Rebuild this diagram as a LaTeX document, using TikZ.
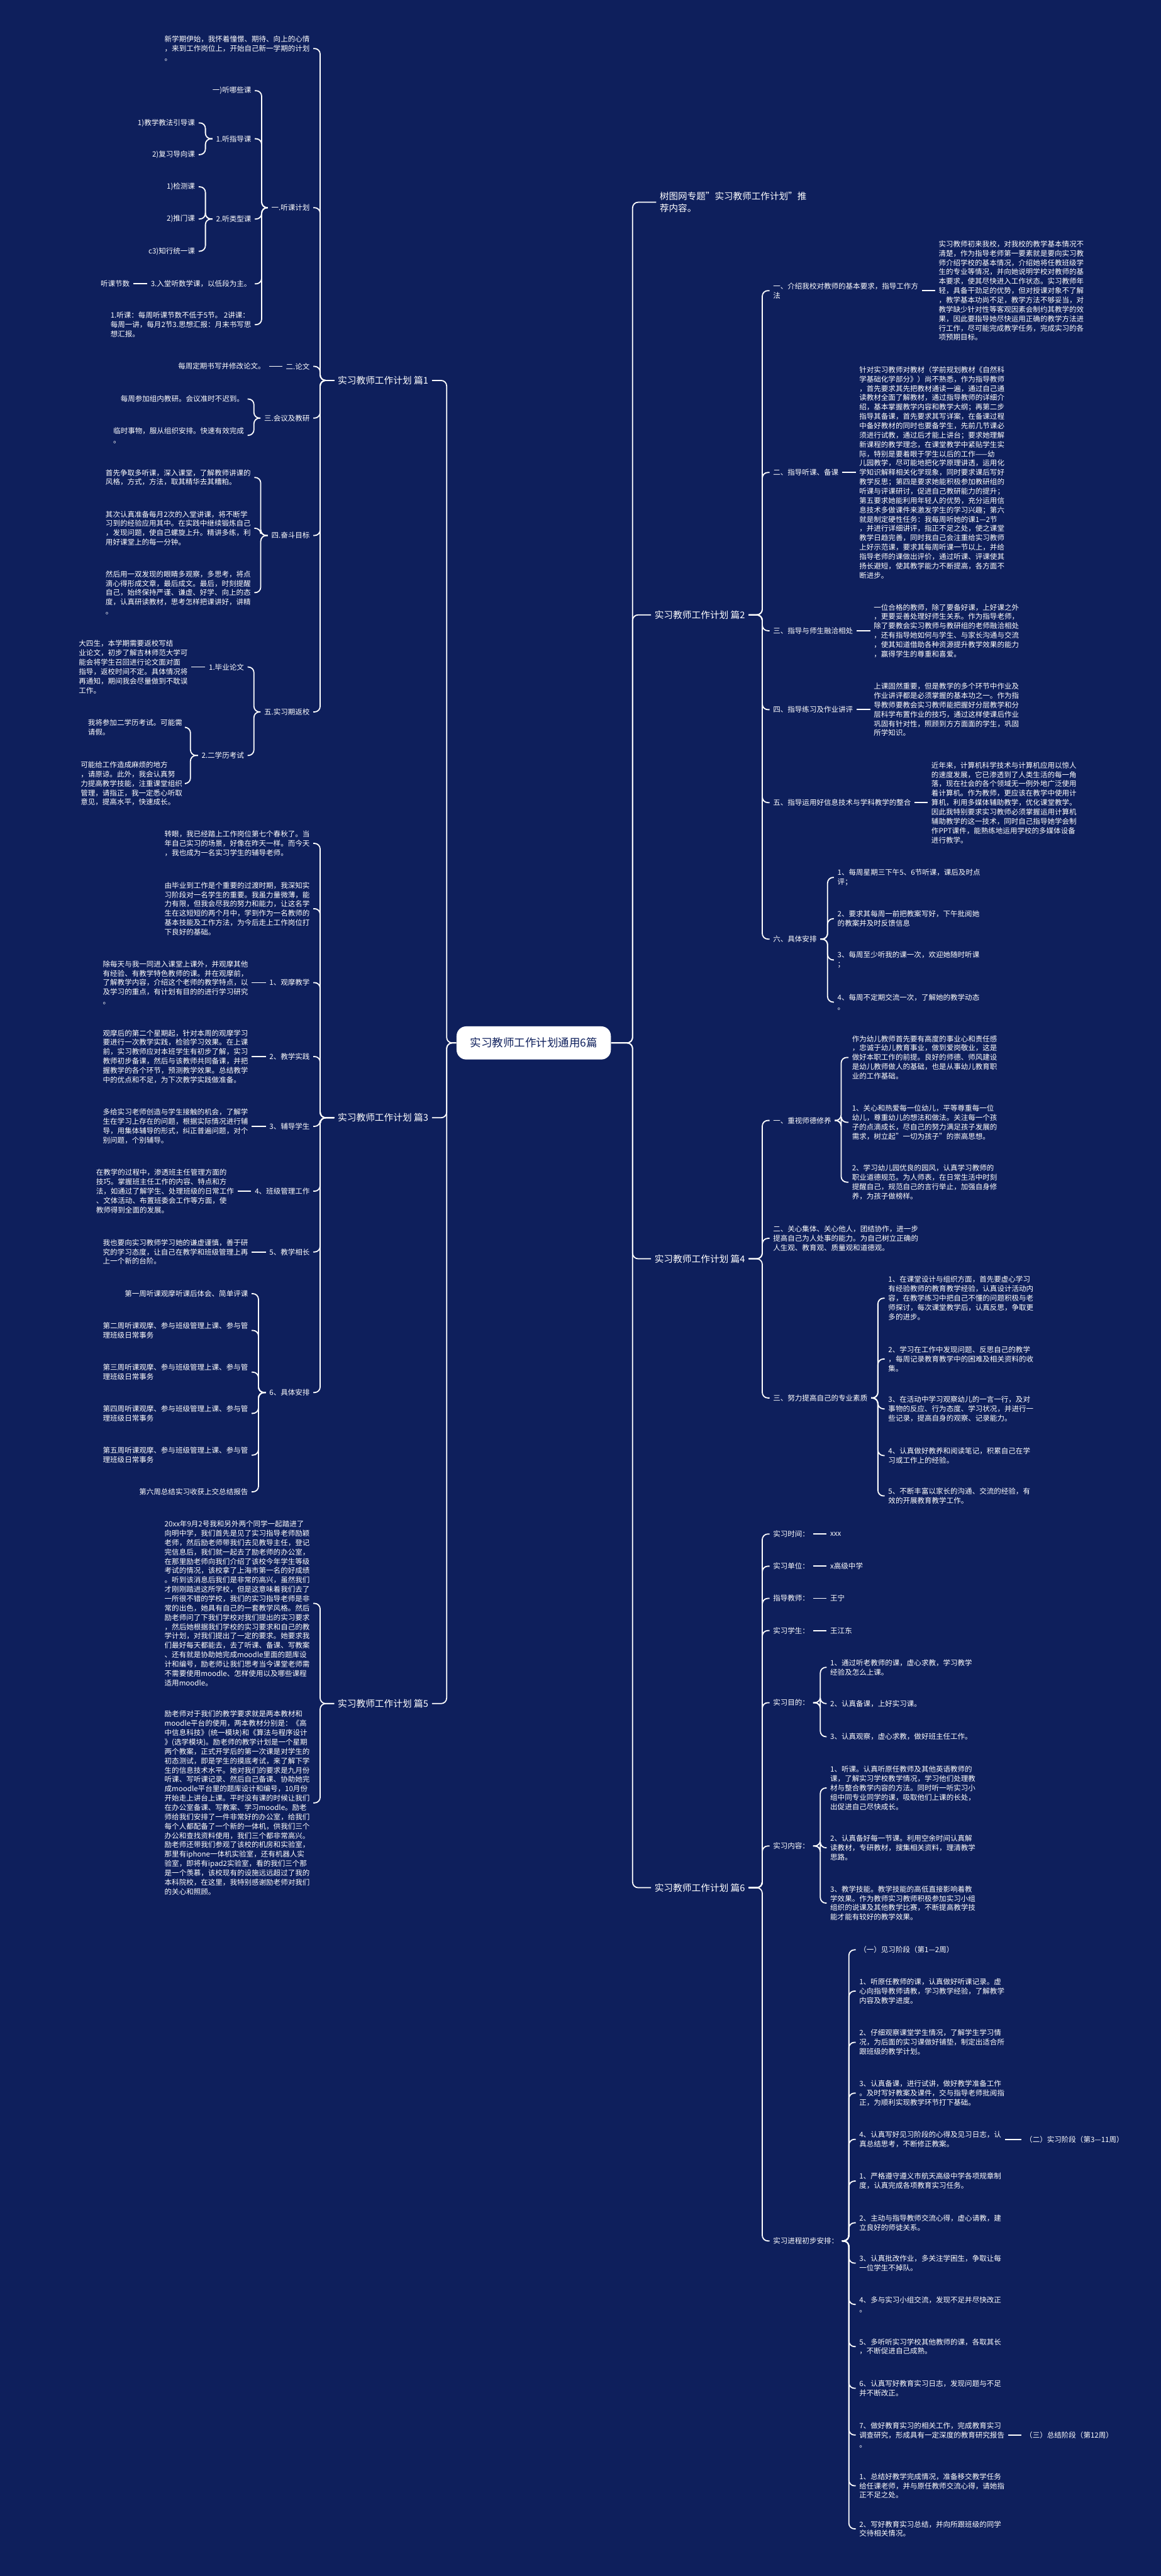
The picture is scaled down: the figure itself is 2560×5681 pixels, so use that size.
\documentclass[tikz,border=0pt]{standalone}
\usepackage{fontspec}
\setmainfont{Noto Sans CJK SC}
\definecolor{bgnavy}{RGB}{14,31,92}
\newcommand\ftxt{\fontsize{4.55pt}{5.86pt}\selectfont}
\newcommand\flab{\fontsize{5.8pt}{7pt}\selectfont}
\newcommand\ftop{\fontsize{5.75pt}{7.4pt}\selectfont}
\newcommand\fctr{\fontsize{6.9pt}{8pt}\selectfont}
\newcommand\LC[3]{\draw[conn] (#1.west) -- (#1.west -| #3) |- (#2.east);}
\newcommand\RC[3]{\draw[conn] (#1.east) -- (#1.east -| #3) |- (#2.west);}
\newcommand\LL[2]{\draw[conn] (#1.west) -- (#2.east);}
\newcommand\RL[2]{\draw[conn] (#1.east) -- (#2.west);}
\begin{document}
\begin{tikzpicture}[x=0.01cm,y=-0.01cm,
  tx/.style={text=white, font=\ftxt, align=left, inner xsep=0pt, inner ysep=1pt, outer xsep=2.28pt},
  lab/.style={text=white, font=\flab, inner xsep=0pt, inner ysep=1pt, outer xsep=2.28pt},
  conn/.style={draw=white, line width=0.7pt, rounded corners=3.5pt}]
\fill[bgnavy] (0,0) rectangle (2560,5681);
\useasboundingbox (0,0) rectangle (2560,5681);
% spines
\coordinate (xl) at (985,0);
\coordinate (xr) at (1395,0);
\coordinate (s1) at (706,0);
\coordinate (s11) at (577,0);
\coordinate (s12) at (453,0);
\coordinate (s3) at (560,0);
\coordinate (s4) at (575,0);
\coordinate (s52) at (420,0);
\coordinate (s7) at (570,0);
\coordinate (sr) at (1681,0);
\coordinate (sd6) at (1825,0);
\coordinate (se1) at (1855,0);
\coordinate (se3) at (1936,0);
\coordinate (sf5) at (1809,0);
\coordinate (sf7) at (1872,0);

% centre
\node[fill=white, rounded corners=6pt, text=bgnavy, font=\fctr, minimum width=3.4cm, minimum height=0.73cm] (C) at (1177,2300) {实习教师工作计划通用6篇};

% top node
\node[text=white, font=\ftop, align=left, inner xsep=0pt, outer xsep=2.28pt, anchor=west] (T) at (1447,446) {树图网专题"实习教师工作计划"推\\荐内容。};

% ===== 篇1 =====
\node[lab,anchor=west] (P1) at (737,839) {实习教师工作计划 篇1};
\node[tx,anchor=east] (a0) at (691,107) {新学期伊始，我怀着憧憬、期待、向上的心情\\，来到工作岗位上，开始自己新一学期的计划\\。};
\node[tx,anchor=east] (a1) at (691,458) {一.听课计划};
\node[tx,anchor=east] (a11) at (562,200) {一)听哪些课};
\node[tx,anchor=east] (a12) at (562,306) {1.听指导课};
\node[tx,anchor=east] (a121) at (438,271) {1)教学教法引导课};
\node[tx,anchor=east] (a122) at (438,341) {2)复习导向课};
\node[tx,anchor=east] (a13) at (562,483) {2.听类型课};
\node[tx,anchor=east] (a131) at (438,412) {1)检测课};
\node[tx,anchor=east] (a132) at (438,483) {2)推门课};
\node[tx,anchor=east] (a133) at (438,554) {c3)知行统一课};
\node[tx,anchor=east] (a14) at (562,626) {3.入堂听数学课，以低段为主。};
\node[tx,anchor=east] (a141) at (294,626) {听课节数};
\node[tx,anchor=east] (a15) at (562,716) {1.听课：每周听课节数不低于5节。 2讲课：\\每周一讲，每月2节3.思想汇报：月末书写思\\想汇报。};
\node[tx,anchor=east] (a2) at (691,808) {二.论文};
\node[tx,anchor=east] (a21) at (593,808) {每周定期书写并修改论文。};
\node[tx,anchor=east] (a3) at (691,922) {三.会议及教研};
\node[tx,anchor=east] (a31) at (546,880) {每周参加组内教研。会议准时不迟到。};
\node[tx,anchor=east] (a32) at (546,960) {临时事物，服从组织安排。快速有效完成\\。};
\node[tx,anchor=east] (a4) at (691,1181) {四.奋斗目标};
\node[tx,anchor=east] (a41) at (561,1053) {首先争取多听课，深入课堂，了解教师讲课的\\风格，方式，方法，取其精华去其糟粕。};
\node[tx,anchor=east] (a42) at (561,1165) {其次认真准备每月2次的入堂讲课，将不断学\\习到的经验应用其中。在实践中继续锻炼自己\\，发现问题，使自己螺旋上升。精讲多练，利\\用好课堂上的每一分钟。};
\node[tx,anchor=east] (a43) at (561,1307) {然后用一双发现的眼睛多观察，多思考，将点\\滴心得形成文章，最后成文。最后，时刻提醒\\自己，始终保持严谨、谦虚、好学、向上的态\\度，认真研读教材，思考怎样把课讲好，讲精\\。};
\node[tx,anchor=east] (a5) at (691,1570) {五.实习期返校};
\node[tx,anchor=east] (a51) at (546,1471) {1.毕业论文};
\node[tx,anchor=east] (a511) at (422,1471) {大四生，本学期需要返校写结\\业论文，初步了解吉林师范大学可\\能会将学生召回进行论文面对面\\指导，返校时间不定。具体情况将\\再通知，期间我会尽量做到不耽误\\工作。};
\node[tx,anchor=east] (a52) at (546,1666) {2.二学历考试};
\node[tx,anchor=east] (a521) at (410,1604) {我将参加二学历考试。可能需\\请假。};
\node[tx,anchor=east] (a522) at (410,1728) {可能给工作造成麻烦的地方\\，请原谅。此外，我会认真努\\力提高教学技能，注重课堂组织\\管理，请指正，我一定悉心听取\\意见，提高水平，快速成长。};

\LC{P1}{a0}{s1}\LC{P1}{a1}{s1}\LC{P1}{a2}{s1}\LC{P1}{a3}{s1}\LC{P1}{a4}{s1}\LC{P1}{a5}{s1}
\LC{a1}{a11}{s11}\LC{a1}{a12}{s11}\LC{a1}{a13}{s11}\LC{a1}{a14}{s11}\LC{a1}{a15}{s11}
\LC{a12}{a121}{s12}\LC{a12}{a122}{s12}
\LC{a13}{a131}{s12}\LC{a13}{a132}{s12}\LC{a13}{a133}{s12}
\LL{a14}{a141}
\LL{a2}{a21}
\LC{a3}{a31}{s3}\LC{a3}{a32}{s3}
\LC{a4}{a41}{s4}\LC{a4}{a42}{s4}\LC{a4}{a43}{s4}
\LC{a5}{a51}{s3}\LC{a5}{a52}{s3}
\LL{a51}{a511}
\LC{a52}{a521}{s52}\LC{a52}{a522}{s52}

% ===== 篇3 =====
\node[lab,anchor=west] (P3) at (737,2465) {实习教师工作计划 篇3};
\node[tx,anchor=east] (b0) at (691,1860) {转眼，我已经踏上工作岗位第七个春秋了。当\\年自己实习的场景，好像在昨天一样。而今天\\，我也成为一名实习学生的辅导老师。};
\node[tx,anchor=east] (b1) at (691,2004) {由毕业到工作是个重要的过渡时期，我深知实\\习阶段对一名学生的重要。我虽力量微薄，能\\力有限，但我会尽我的努力和能力，让这名学\\生在这短短的两个月中，学到作为一名教师的\\基本技能及工作方法，为今后走上工作岗位打\\下良好的基础。};
\node[tx,anchor=east] (b2) at (691,2167) {1、观摩教学};
\node[tx,anchor=east] (b21) at (555,2167) {除每天与我一同进入课堂上课外，并观摩其他\\有经验、有教学特色教师的课。并在观摩前，\\了解教学内容，介绍这个老师的教学特点，以\\及学习的重点，有计划有目的的进行学习研究\\。};
\node[tx,anchor=east] (b3) at (691,2330) {2、教学实践};
\node[tx,anchor=east] (b31) at (555,2330) {观摩后的第二个星期起，针对本周的观摩学习\\要进行一次教学实践，检验学习效果。在上课\\前，实习教师应对本班学生有初步了解，实习\\教师初步备课，然后与该教师共同备课，并把\\握教学的各个环节，预测教学效果。总结教学\\中的优点和不足，为下次教学实践做准备。};
\node[tx,anchor=east] (b4) at (691,2484) {3、辅导学生};
\node[tx,anchor=east] (b41) at (555,2484) {多给实习老师创造与学生接触的机会，了解学\\生在学习上存在的问题，根据实际情况进行辅\\导，用集体辅导的形式，纠正普遍问题，对个\\别问题，个别辅导。};
\node[tx,anchor=east] (b5) at (691,2627) {4、班级管理工作};
\node[tx,anchor=east] (b51) at (524,2627) {在教学的过程中，渗透班主任管理方面的\\技巧。掌握班主任工作的内容、特点和方\\法，如通过了解学生、处理班级的日常工作\\、文体活动、布置班委会工作等方面，使\\教师得到全面的发展。};
\node[tx,anchor=east] (b6) at (691,2761) {5、教学相长};
\node[tx,anchor=east] (b61) at (555,2761) {我也要向实习教师学习她的谦虚谨慎，善于研\\究的学习态度，让自己在教学和班级管理上再\\上一个新的台阶。};
\node[tx,anchor=east] (b7) at (691,3071) {6、具体安排};
\node[tx,anchor=east] (b71) at (555,2853) {第一周听课观摩听课后体会、简单评课};
\node[tx,anchor=east] (b72) at (555,2934) {第二周听课观摩、参与班级管理上课、参与管\\理班级日常事务};
\node[tx,anchor=east] (b73) at (555,3026) {第三周听课观摩、参与班级管理上课、参与管\\理班级日常事务};
\node[tx,anchor=east] (b74) at (555,3117) {第四周听课观摩、参与班级管理上课、参与管\\理班级日常事务};
\node[tx,anchor=east] (b75) at (555,3209) {第五周听课观摩、参与班级管理上课、参与管\\理班级日常事务};
\node[tx,anchor=east] (b76) at (555,3290) {第六周总结实习收获上交总结报告};

\LC{P3}{b0}{s1}\LC{P3}{b1}{s1}\LC{P3}{b2}{s1}\LC{P3}{b3}{s1}\LC{P3}{b4}{s1}\LC{P3}{b5}{s1}\LC{P3}{b6}{s1}\LC{P3}{b7}{s1}
\LL{b2}{b21}\LL{b3}{b31}\LL{b4}{b41}\LL{b5}{b51}\LL{b6}{b61}
\LC{b7}{b71}{s7}\LC{b7}{b72}{s7}\LC{b7}{b73}{s7}\LC{b7}{b74}{s7}\LC{b7}{b75}{s7}\LC{b7}{b76}{s7}

% ===== 篇5 =====
\node[lab,anchor=west] (P5) at (737,3757) {实习教师工作计划 篇5};
\node[tx,anchor=east] (c1) at (691,3536) {20xx年9月2号我和另外两个同学一起踏进了\\向明中学，我们首先是见了实习指导老师励颖\\老师，然后励老师带我们去见教导主任，登记\\完信息后，我们就一起去了励老师的办公室，\\在那里励老师向我们介绍了该校今年学生等级\\考试的情况，该校拿了上海市第一名的好成绩\\。听到该消息后我们是非常的高兴，虽然我们\\才刚刚踏进这所学校，但是这意味着我们去了\\一所很不错的学校，我们的实习指导老师是非\\常的出色，她具有自己的一套教学风格。然后\\励老师问了下我们学校对我们提出的实习要求\\，然后她根据我们学校的实习要求和自己的教\\学计划，对我们提出了一定的要求。她要求我\\们最好每天都能去，去了听课、备课、写教案\\、还有就是协助她完成moodle里面的题库设\\计和编号，励老师让我们思考当今课堂老师需\\不需要使用moodle、怎样使用以及哪些课程\\适用moodle。};
\node[tx,anchor=east] (c2) at (691,3976) {励老师对于我们的教学要求就是两本教材和\\moodle平台的使用，两本教材分别是：《高\\中信息科技》(统一模块)和《算法与程序设计\\》(选学模块)。励老师的教学计划是一个星期\\两个教案，正式开学后的第一次课是对学生的\\初态测试，即是学生的摸底考试，来了解下学\\生的信息技术水平。她对我们的要求是九月份\\听课、写听课记录、然后自己备课、协助她完\\成moodle平台里的题库设计和编号，10月份\\开始走上讲台上课。平时没有课的时候让我们\\在办公室备课、写教案、学习moodle。励老\\师给我们安排了一件非常好的办公室，给我们\\每个人都配备了一个新的一体机，供我们三个\\办公和查找资料使用，我们三个都非常高兴。\\励老师还带我们参观了该校的机房和实验室，\\那里有iphone一体机实验室，还有机器人实\\验室，即将有ipad2实验室，看的我们三个那\\是一个羡慕，该校现有的设施远远超过了我的\\本科院校，在这里，我特别感谢励老师对我们\\的关心和照顾。};
\LC{P5}{c1}{s1}\LC{P5}{c2}{s1}

% ===== 篇2 =====
\node[lab,anchor=east] (P2) at (1651,1356) {实习教师工作计划 篇2};
\node[tx,anchor=west] (d1) at (1697,641) {一、介绍我校对教师的基本要求，指导工作方\\法};
\node[tx,anchor=west] (d11) at (2062,641) {实习教师初来我校，对我校的教学基本情况不\\清楚，作为指导老师第一要素就是要向实习教\\师介绍学校的基本情况，介绍她将任教班级学\\生的专业等情况，并向她说明学校对教师的基\\本要求，使其尽快进入工作状态。实习教师年\\轻，具备干劲足的优势，但对授课对象不了解\\，教学基本功尚不足，教学方法不够妥当，对\\教学缺少针对性等客观因素会制约其教学的效\\果，因此要指导她尽快运用正确的教学方法进\\行工作，尽可能完成教学任务，完成实习的各\\项预期目标。};
\node[tx,anchor=west] (d2) at (1697,1042) {二、指导听课、备课};
\node[tx,anchor=west] (d21) at (1887,1042) {针对实习教师对教材（学前规划教材《自然科\\学基础化学部分》）尚不熟悉，作为指导教师\\，首先要求其先把教材通读一遍，通过自己通\\读教材全面了解教材，通过指导教师的详细介\\绍，基本掌握教学内容和教学大纲；再第二步\\指导其备课，首先要求其写详案，在备课过程\\中备好教材的同时也要备学生，先前几节课必\\须进行试教，通过后才能上讲台；要求她理解\\新课程的教学理念，在课堂教学中紧贴学生实\\际，特别是要着眼于学生以后的工作——幼\\儿园教学，尽可能地把化学原理讲透，运用化\\学知识解释相关化学现象，同时要求课后写好\\教学反思；第四是要求她能积极参加教研组的\\听课与评课研讨，促进自己教研能力的提升；\\第五要求她能利用年轻人的优势，充分运用信\\息技术多做课件来激发学生的学习兴趣；第六\\就是制定硬性任务：我每周听她的课1—2节\\，并进行详细讲评，指正不足之处，使之课堂\\教学日趋完善，同时我自己会注重给实习教师\\上好示范课，要求其每周听课一节以上，并给\\指导老师的课做出评价，通过听课、评课使其\\扬长避短，使其教学能力不断提高，各方面不\\断进步。};
\node[tx,anchor=west] (d3) at (1697,1391) {三、指导与师生融洽相处};
\node[tx,anchor=west] (d31) at (1919,1391) {一位合格的教师，除了要备好课，上好课之外\\，更要妥善处理好师生关系。作为指导老师，\\除了要教会实习教师与教研组的老师融洽相处\\，还有指导她如何与学生、与家长沟通与交流\\，使其知道借助各种资源提升教学效果的能力\\，赢得学生的尊重和喜爱。};
\node[tx,anchor=west] (d4) at (1697,1565) {四、指导练习及作业讲评};
\node[tx,anchor=west] (d41) at (1919,1565) {上课固然重要，但是教学的多个环节中作业及\\作业讲评都是必须掌握的基本功之一。作为指\\导教师要教会实习教师能把握好分层教学和分\\层科学布置作业的技巧，通过这样使课后作业\\巩固有针对性，照顾到方方面面的学生，巩固\\所学知识。};
\node[tx,anchor=west] (d5) at (1697,1770) {五、指导运用好信息技术与学科教学的整合};
\node[tx,anchor=west] (d51) at (2046,1770) {近年来，计算机科学技术与计算机应用以惊人\\的速度发展，它已渗透到了人类生活的每一角\\落，现在社会的各个领域无一例外地广泛使用\\着计算机。作为教师，更应该在教学中使用计\\算机，利用多媒体辅助教学，优化课堂教学。\\因此我特别要求实习教师必须掌握运用计算机\\辅助教学的这一技术，同时自己指导她学会制\\作PPT课件，能熟练地运用学校的多媒体设备\\进行教学。};
\node[tx,anchor=west] (d6) at (1697,2071) {六、具体安排};
\node[tx,anchor=west] (d61) at (1839,1935) {1、每周星期三下午5、6节听课，课后及时点\\评；};
\node[tx,anchor=west] (d62) at (1839,2026) {2、要求其每周一前把教案写好，下午批阅她\\的教案并及时反馈信息};
\node[tx,anchor=west] (d63) at (1839,2117) {3、每周至少听我的课一次，欢迎她随时听课\\；};
\node[tx,anchor=west] (d64) at (1839,2210) {4、每周不定期交流一次，了解她的教学动态\\。};
\RC{P2}{d1}{sr}\RC{P2}{d2}{sr}\RC{P2}{d3}{sr}\RC{P2}{d4}{sr}\RC{P2}{d5}{sr}\RC{P2}{d6}{sr}
\RL{d1}{d11}\RL{d2}{d21}\RL{d3}{d31}\RL{d4}{d41}\RL{d5}{d51}
\RC{d6}{d61}{sd6}\RC{d6}{d62}{sd6}\RC{d6}{d63}{sd6}\RC{d6}{d64}{sd6}

% ===== 篇4 =====
\node[lab,anchor=east] (P4) at (1651,2776) {实习教师工作计划 篇4};
\node[tx,anchor=west] (e1) at (1697,2471) {一、重视师德修养};
\node[tx,anchor=west] (e11) at (1871,2332) {作为幼儿教师首先要有高度的事业心和责任感\\，忠诚于幼儿教育事业，做到爱岗敬业，这是\\做好本职工作的前提。良好的师德、师风建设\\是幼儿教师做人的基础，也是从事幼儿教育职\\业的工作基础。};
\node[tx,anchor=west] (e12) at (1871,2475) {1、关心和热爱每一位幼儿，平等尊重每一位\\幼儿，尊重幼儿的想法和做法。关注每一个孩\\子的点滴成长，尽自己的努力满足孩子发展的\\需求，树立起"一切为孩子"的崇高思想。};
\node[tx,anchor=west] (e13) at (1871,2607) {2、学习幼儿园优良的园风，认真学习教师的\\职业道德规范。为人师表，在日常生活中时刻\\提醒自己，规范自己的言行举止，加强自身修\\养，为孩子做榜样。};
\node[tx,anchor=west] (e2) at (1697,2731) {二、关心集体、关心他人，团结协作，进一步\\提高自己为人处事的能力。为自己树立正确的\\人生观、教育观、质量观和道德观。};
\node[tx,anchor=west] (e3) at (1697,3083) {三、努力提高自己的专业素质};
\node[tx,anchor=west] (e31) at (1951,2863) {1、在课堂设计与组织方面，首先要虚心学习\\有经验教师的教育教学经验，认真设计活动内\\容，在教学练习中把自己不懂的问题积极与老\\师探讨，每次课堂教学后，认真反思，争取更\\多的进步。};
\node[tx,anchor=west] (e32) at (1951,2997) {2、学习在工作中发现问题、反思自己的教学\\，每周记录教育教学中的困难及相关资料的收\\集。};
\node[tx,anchor=west] (e33) at (1951,3107) {3、在活动中学习观察幼儿的一言一行，及对\\事物的反应、行为态度、学习状况，并进行一\\些记录，提高自身的观察、记录能力。};
\node[tx,anchor=west] (e34) at (1951,3210) {4、认真做好教养和阅读笔记，积累自己在学\\习或工作上的经验。};
\node[tx,anchor=west] (e35) at (1951,3299) {5、不断丰富以家长的沟通、交流的经验，有\\效的开展教育教学工作。};
\RC{P4}{e1}{sr}\RC{P4}{e2}{sr}\RC{P4}{e3}{sr}
\RC{e1}{e11}{se1}\RC{e1}{e12}{se1}\RC{e1}{e13}{se1}
\RC{e3}{e31}{se3}\RC{e3}{e32}{se3}\RC{e3}{e33}{se3}\RC{e3}{e34}{se3}\RC{e3}{e35}{se3}

% ===== 篇6 =====
\node[lab,anchor=east] (P6) at (1651,4163) {实习教师工作计划 篇6};
\node[tx,anchor=west] (f1) at (1697,3383) {实习时间：};
\node[tx,anchor=west] (f11) at (1823,3383) {xxx};
\node[tx,anchor=west] (f2) at (1697,3454) {实习单位：};
\node[tx,anchor=west] (f21) at (1823,3454) {x高级中学};
\node[tx,anchor=west] (f3) at (1697,3525) {指导教师：};
\node[tx,anchor=west] (f31) at (1823,3525) {王宁};
\node[tx,anchor=west] (f4) at (1697,3596) {实习学生：};
\node[tx,anchor=west] (f41) at (1823,3596) {王江东};
\node[tx,anchor=west] (f5) at (1697,3755) {实习目的：};
\node[tx,anchor=west] (f51) at (1823,3677) {1、通过听老教师的课，虚心求教，学习教学\\经验及怎么上课。};
\node[tx,anchor=west] (f52) at (1823,3757) {2、认真备课，上好实习课。};
\node[tx,anchor=west] (f53) at (1823,3830) {3、认真观察，虚心求教，做好班主任工作。};
\node[tx,anchor=west] (f6) at (1697,4071) {实习内容：};
\node[tx,anchor=west] (f61) at (1823,3943) {1、听课。认真听原任教师及其他英语教师的\\课，了解实习学校教学情况，学习他们处理教\\材与整合教学内容的方法。同时听一听实习小\\组中同专业同学的课，吸取他们上课的长处，\\出促进自己尽快成长。};
\node[tx,anchor=west] (f62) at (1823,4075) {2、认真备好每一节课。利用空余时间认真解\\读教材，专研教材，搜集相关资料，理清教学\\思路。};
\node[tx,anchor=west] (f63) at (1823,4197) {3、教学技能。教学技能的高低直接影响着教\\学效果。作为教师实习教师积极参加实习小组\\组织的说课及其他教学比赛，不断提高教学技\\能才能有较好的教学效果。};
\node[tx,anchor=west] (f7) at (1697,4942) {实习进程初步安排：};
\node[tx,anchor=west] (g1) at (1887,4300) {（一）见习阶段（第1—2周）};
\node[tx,anchor=west] (g2) at (1887,4391) {1、听原任教师的课，认真做好听课记录。虚\\心向指导教师请教，学习教学经验，了解教学\\内容及教学进度。};
\node[tx,anchor=west] (g3) at (1887,4504) {2、仔细观察课堂学生情况，了解学生学习情\\况，为后面的实习课做好铺垫，制定出适合所\\跟班级的教学计划。};
\node[tx,anchor=west] (g4) at (1887,4616) {3、认真备课，进行试讲，做好教学准备工作\\。及时写好教案及课件，交与指导老师批阅指\\正，为顺利实现教学环节打下基础。};
\node[tx,anchor=west] (g5) at (1887,4718) {4、认真写好见习阶段的心得及见习日志，认\\真总结思考，不断修正教案。};
\node[tx,anchor=west] (g51) at (2253,4718) {（二）实习阶段（第3—11周）};
\node[tx,anchor=west] (g6) at (1887,4810) {1、严格遵守遵义市航天高级中学各项规章制\\度，认真完成各项教育实习任务。};
\node[tx,anchor=west] (g7) at (1887,4902) {2、主动与指导教师交流心得，虚心请教，建\\立良好的师徒关系。};
\node[tx,anchor=west] (g8) at (1887,4991) {3、认真批改作业，多关注学困生，争取让每\\一位学生不掉队。};
\node[tx,anchor=west] (g9) at (1887,5082) {4、多与实习小组交流，发现不足并尽快改正\\。};
\node[tx,anchor=west] (g10) at (1887,5175) {5、多听听实习学校其他教师的课，各取其长\\，不断促进自己成熟。};
\node[tx,anchor=west] (g11) at (1887,5267) {6、认真写好教育实习日志，发现问题与不足\\并不断改正。};
\node[tx,anchor=west] (g12) at (1887,5370) {7、做好教育实习的相关工作，完成教育实习\\调查研究，形成具有一定深度的教育研究报告\\。};
\node[tx,anchor=west] (g121) at (2253,5370) {（三）总结阶段（第12周）};
\node[tx,anchor=west] (g13) at (1887,5482) {1、总结好教学完成情况，准备移交教学任务\\给任课老师，并与原任教师交流心得，请她指\\正不足之处。};
\node[tx,anchor=west] (g14) at (1887,5577) {2、写好教育实习总结，并向所跟班级的同学\\交待相关情况。};
\RC{P6}{f1}{sr}\RC{P6}{f2}{sr}\RC{P6}{f3}{sr}\RC{P6}{f4}{sr}\RC{P6}{f5}{sr}\RC{P6}{f6}{sr}\RC{P6}{f7}{sr}
\RL{f1}{f11}\RL{f2}{f21}\RL{f3}{f31}\RL{f4}{f41}
\RC{f5}{f51}{sf5}\RC{f5}{f52}{sf5}\RC{f5}{f53}{sf5}
\RC{f6}{f61}{sf5}\RC{f6}{f62}{sf5}\RC{f6}{f63}{sf5}
\RC{f7}{g1}{sf7}\RC{f7}{g2}{sf7}\RC{f7}{g3}{sf7}\RC{f7}{g4}{sf7}\RC{f7}{g5}{sf7}\RC{f7}{g6}{sf7}\RC{f7}{g7}{sf7}
\RC{f7}{g8}{sf7}\RC{f7}{g9}{sf7}\RC{f7}{g10}{sf7}\RC{f7}{g11}{sf7}\RC{f7}{g12}{sf7}\RC{f7}{g13}{sf7}\RC{f7}{g14}{sf7}
\RL{g5}{g51}\RL{g12}{g121}

% ===== centre connectors =====
\LC{C}{P1}{xl}\LC{C}{P3}{xl}\LC{C}{P5}{xl}
\RC{C}{T}{xr}\RC{C}{P2}{xr}\RC{C}{P4}{xr}\RC{C}{P6}{xr}
\end{tikzpicture}
\end{document}
